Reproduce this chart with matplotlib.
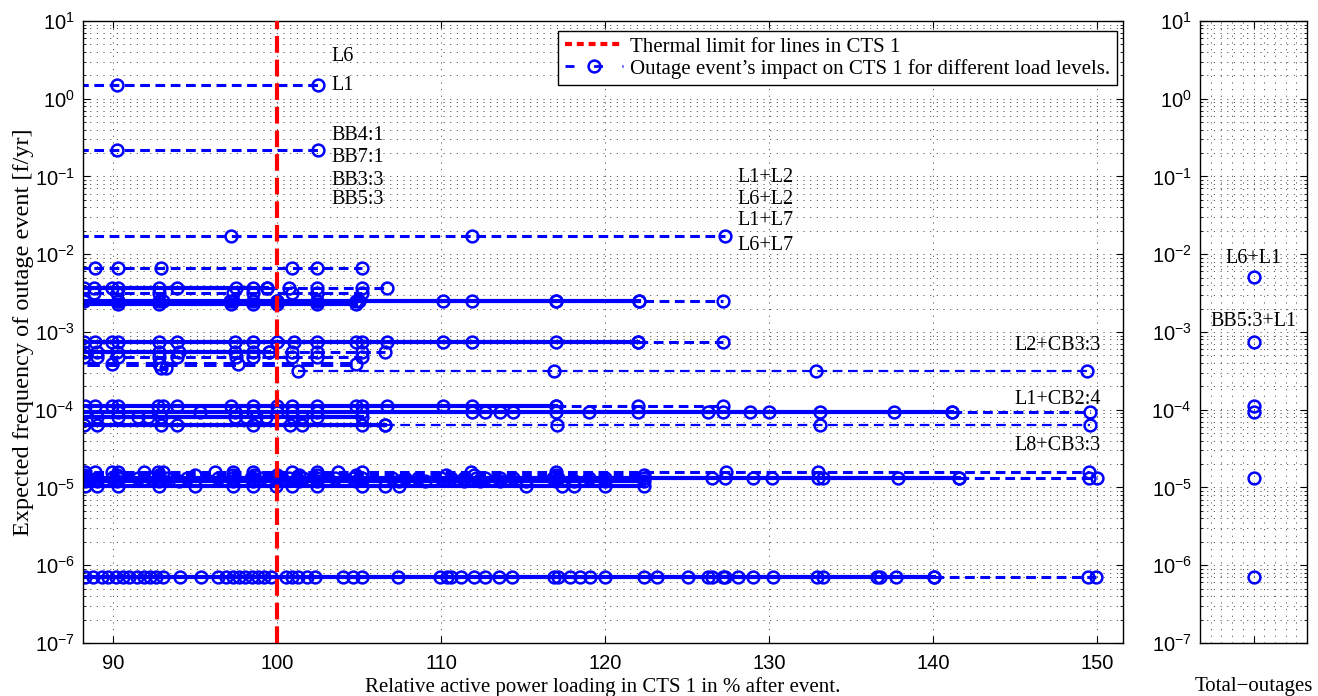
"""Outage event frequency vs. relative loading in CTS 1 (MATLAB-style log plot)."""

import matplotlib
import matplotlib.pyplot as plt
import matplotlib.ticker as mticker
import numpy as np
from matplotlib.lines import Line2D

matplotlib.use("Agg")

SERIF = "Liberation Serif"
SANS = "Liberation Sans"
BLUE = "#0000FF"
RED = "#FF0000"

# ---- event levels [f/yr] -------------------------------------------------
LV_A = 1.5
LV_B = 0.22
LV_C = 0.0172
LV_D = 0.0066
LV_E1 = 3.68e-3
LV_E2 = 3.2e-3
LV_E3 = 2.5e-3
LV_E4 = 2.27e-3
LV_F1 = 7.4e-4
LV_F2 = 5.5e-4
LV_F3 = 4.8e-4
LV_F4 = 3.87e-4
LV_F5 = 3.48e-4
LV_F6 = 3.15e-4
LV_G1 = 1.12e-4
LV_G2 = 9.44e-5
LV_G3 = 8.15e-5
LV_G4 = 6.37e-5
LV_H1 = 1.58e-5
LV_H2 = 1.45e-5
LV_H3 = 1.31e-5
LV_H4 = 1.21e-5
LV_H5 = 1.05e-5
LV_I = 7.06e-7

# ---- relative loading [%] for each load level ----------------------------
A_X = [86.0, 90.2, 102.5]
B_X = [86.0, 90.2, 102.5]
C_X = [86.0, 97.2, 111.9, 127.3]
D_X = [86.0, 88.9, 90.3, 92.9, 100.9, 102.4, 105.2]

E1_X = [86.0, 88.2, 88.8, 89.9, 90.3, 92.8, 93.9, 97.5, 98.5, 99.4]
E1D_X = [99.4, 100.7, 102.4, 105.2, 106.7]
E2_X = [86.0, 88.8, 90.2, 92.8, 97.3, 98.5, 100.9, 102.4, 105.2]
E3_X = [86.0, 88.2, 90.3, 92.8, 97.3, 98.5, 100.0, 102.4, 104.8, 110.1, 117.0, 122.1]
E3D_X = [86.0, 90.3, 93.0, 97.1, 100.0, 102.4, 105.0, 111.9, 117.0, 122.1, 127.2]
E4_X = [86.0, 90.3, 92.8, 97.2, 98.5, 100.0, 102.4, 104.8]

F1_X = [86.0, 88.2, 88.9, 89.9, 90.3, 92.8, 93.9, 97.4, 98.5, 100.0, 101.0,
        102.4, 104.8, 105.2, 106.7, 110.1, 111.9, 117.0, 122.0]
F1D_X = [122.0, 127.2]
F2_X = [86.0, 88.2, 89.0, 90.2, 92.8, 94.0, 97.4, 98.5, 99.5]
F2D_X = [99.5, 100.9, 102.4, 105.2, 106.6]
F3_X = [86.0, 88.2, 89.0, 90.3, 92.8, 93.9, 97.5, 98.5, 100.9, 102.4, 105.2]
F4_X = [86.0, 89.9, 92.8, 97.6, 104.8]
F5_X = [92.9, 93.2]
F6_X = [101.25, 116.9, 132.9, 149.4]

G1_X = [86.0, 88.25, 88.9, 89.9, 90.3, 92.7, 93.0, 93.9, 97.2, 98.5, 100.0,
        100.9, 102.4, 104.8, 105.2, 106.7, 110.1, 111.9, 117.0]
G1D_X = [117.0, 122.0, 127.2]
G2_X = [86.0, 88.25, 90.3, 95.3, 97.4, 98.5, 100.0, 100.9, 102.4, 105.2, 111.9,
        112.7, 113.6, 114.4, 117.0, 119.0, 122.0, 126.3, 127.2, 128.85, 130.0,
        133.1, 137.65, 141.2]
G2D_X = [141.2, 149.6]
G3_X = [86.0, 89.0, 90.3, 91.5, 92.1, 92.9, 97.4, 98.1, 98.7, 99.3, 100.9,
        101.5, 102.4, 105.2]
G4_X = [86.0, 88.2, 89.0, 92.9, 93.9, 98.5, 100.8, 101.5, 105.2, 106.6]
G4D_X = [106.6, 117.05, 133.1, 149.6]

H1_X = [86.0, 88.25, 88.9, 89.9, 90.3, 91.9, 92.7, 93.0, 96.2, 97.3, 98.5,
        100.9, 102.4, 103.7, 105.2, 111.8, 117.0, 127.4, 133.0, 149.5]
H2_X = [86.0, 88.3, 90.2, 92.8, 95.0, 97.3, 98.6, 100.0, 101.3, 102.4, 104.8,
        110.3, 112.0, 117.0, 122.4]
H3_X = [86.0, 88.3, 89.0, 89.9, 90.3, 91.5, 92.3, 92.8, 93.3, 94.5, 96.4, 97.3,
        98.4, 99.0, 100.0, 100.7, 101.2, 101.6, 102.4, 103.5, 104.6, 105.2,
        107.0, 107.8, 108.6, 110.0, 110.6, 111.4, 112.1, 112.7, 113.6, 114.4,
        116.8, 117.1, 119.0, 120.0, 122.4, 126.5, 127.3, 129.0, 130.2, 133.0,
        133.3, 137.9, 141.6]
H3D_X = [141.6, 149.5, 150.0]
H4_X = [86.0, 88.3, 89.0, 90.2, 92.8, 94.0, 97.3, 98.5, 100.0, 101.3, 102.4,
        104.8, 107.4, 109.0, 111.4, 112.4, 113.6, 115.2, 117.0, 118.1, 120.0,
        122.4]
H5_X = [86.0, 88.3, 89.0, 90.3, 92.8, 95.0, 97.3, 98.5, 99.9, 100.9, 102.4,
        105.2, 106.6, 107.4, 115.2, 117.4, 118.1, 120.0, 122.4]

I_X = [86.0, 88.24, 88.75, 89.28, 89.66, 90.18, 90.56, 90.95, 91.47, 91.86,
       92.25, 92.63, 93.02, 94.05, 95.34, 96.37, 96.9, 97.28, 97.67, 98.06,
       98.44, 98.83, 99.22, 99.61, 100.51, 100.9, 101.28, 101.8, 102.32, 104.0,
       104.64, 105.16, 107.36, 109.94, 110.33, 110.58, 111.23, 112.0, 112.65,
       113.55, 114.33, 116.86, 117.13, 117.85, 118.47, 119.1, 120.0, 122.36,
       123.17, 125.05, 126.26, 126.53, 127.2, 127.33, 128.14, 129.03, 130.23,
       132.92, 133.32, 136.6, 136.8, 137.75, 140.09]
ID_X = [140.09, 149.49, 149.97]

THERMAL_LIMIT = 100.0

# ---- total outages panel -------------------------------------------------
TOTAL_X = [1, 1, 1, 1, 1, 1]
TOTAL_Y = [5.09e-3, 7.4e-4, 1.12e-4, 9.35e-5, 1.31e-5, 7.06e-7]

# ---- event labels (text, x, y) -------------------------------------------
MAIN_LABELS = [
    ("L6", 103.3, 3.44, "left"),
    ("L1", 103.3, 1.50, "left"),
    ("BB4:1", 103.3, 0.332, "left"),
    ("BB7:1", 103.3, 0.173, "left"),
    ("BB3:3", 103.3, 0.090, "left"),
    ("BB5:3", 103.3, 0.0499, "left"),
    ("L1+L2", 128.1, 0.0957, "left"),
    ("L6+L2", 128.1, 0.0499, "left"),
    ("L1+L7", 128.1, 0.0268, "left"),
    ("L6+L7", 128.1, 0.0131, "left"),
    ("L2+CB3:3", 150.25, 6.6e-4, "right"),
    ("L1+CB2:4", 150.25, 1.37e-4, "right"),
    ("L8+CB3:3", 150.25, 3.42e-5, "right"),
]
TOTAL_LABELS = [
    ("L6+L1", 1.0, 8.7e-3),
    ("BB5:3+L1", 1.0, 1.38e-3),
]

SERIES = [
    (A_X, LV_A, "dash"), (B_X, LV_B, "dash"), (C_X, LV_C, "dash"),
    (D_X, LV_D, "dash"),
    (E1_X, LV_E1, "solid"), (E1D_X, LV_E1, "dash"), (E2_X, LV_E2, "dash"),
    (E3_X, LV_E3, "solid"), (E3D_X, LV_E3, "dash"), (E4_X, LV_E4, "solid"),
    (F1_X, LV_F1, "solid"), (F1D_X, LV_F1, "dash"), (F2_X, LV_F2, "solid"),
    (F2D_X, LV_F2, "dash"), (F3_X, LV_F3, "dash"), (F4_X, LV_F4, "thick"),
    (F5_X, LV_F5, "thick"), (F6_X, LV_F6, "thin"),
    (G1_X, LV_G1, "solid"), (G1D_X, LV_G1, "dash"), (G2_X, LV_G2, "solid"),
    (G2D_X, LV_G2, "dash"), (G3_X, LV_G3, "solid"), (G4_X, LV_G4, "solid"),
    (G4D_X, LV_G4, "thin"),
    (H1_X, LV_H1, "dash"), (H2_X, LV_H2, "dash"), (H3_X, LV_H3, "solid"),
    (H3D_X, LV_H3, "dash"), (H4_X, LV_H4, "solid"), (H5_X, LV_H5, "solid"),
    (I_X, LV_I, "solid"), (ID_X, LV_I, "dash"),
]

STYLES = {
    "solid": dict(linestyle="-", linewidth=3.0),
    "dash": dict(linestyle=(0, (7, 4)), linewidth=2.2),
    "thin": dict(linestyle=(0, (7, 4)), linewidth=1.6),
    "thick": dict(linestyle=(0, (9, 5)), linewidth=3.6),
}
MARKER = dict(marker="o", markersize=8.5, markeredgewidth=1.8,
              markerfacecolor="none", markeredgecolor=BLUE)
GRID = dict(color="0.2", linewidth=0.6, linestyle=(0, (0.8, 4.0)))


def setup_style() -> None:
    plt.rcParams.update(
        {
            "font.family": SANS,
            "font.size": 14.5,
            "mathtext.fontset": "custom",
            "mathtext.rm": SANS,
            "mathtext.it": SANS,
            "lines.scale_dashes": False,
            "axes.linewidth": 1.0,
            "xtick.direction": "in",
            "ytick.direction": "in",
            "xtick.top": True,
            "ytick.right": True,
            "xtick.major.size": 5,
            "ytick.major.size": 5,
            "ytick.minor.size": 2.5,
            "xtick.minor.size": 0,
        }
    )


def style_log_axis(ax) -> None:
    ax.set_yscale("log")
    ax.set_ylim(1e-7, 1e1)
    ax.yaxis.set_major_locator(mticker.LogLocator(base=10, numticks=20))
    ax.yaxis.set_minor_locator(
        mticker.LogLocator(base=10, subs=np.arange(2, 10), numticks=100)
    )
    ax.grid(True, which="major", axis="both", **GRID)
    ax.grid(True, which="minor", axis="y", **GRID)
    ax.tick_params(axis="y", which="major", pad=6, labelsize=14.5)
    ax.tick_params(axis="x", which="major", pad=8, labelsize=14.5)
    ax.set_axisbelow(True)


def main() -> None:
    setup_style()
    fig = plt.figure(figsize=(13.18, 6.96), dpi=100)
    ax = fig.add_axes([0.063, 0.0762, 0.789, 0.8937])
    ax2 = fig.add_axes([0.9105, 0.0762, 0.0812, 0.8937])

    style_log_axis(ax)
    for xs, level, key in SERIES:
        ax.plot(xs, [level] * len(xs), color=BLUE, **STYLES[key], **MARKER)
    ax.axvline(THERMAL_LIMIT, color=RED, linewidth=3.0,
               linestyle=(0, (12, 5)), zorder=5)

    ax.set_xlim(88.15, 151.6)
    ax.xaxis.set_major_locator(mticker.MultipleLocator(10))
    ax.xaxis.set_minor_locator(mticker.NullLocator())
    ax.set_xlabel("Relative active power loading in CTS 1 in % after event.",
                  family=SERIF, fontsize=15)
    ax.xaxis.set_label_coords(0.5, -0.055)
    ax.set_ylabel("Expected frequency of outage event [f/yr]",
                  family=SERIF, fontsize=17.5, labelpad=0)

    for text, x, y, ha in MAIN_LABELS:
        ax.text(x, y, text, ha=ha, va="center", family=SERIF, fontsize=14.5)

    handles = [
        Line2D([], [], color=RED, linewidth=3.0, linestyle=(0, (5, 3.5))),
        Line2D([], [], color=BLUE, linewidth=2.0, linestyle=(0, (6.5, 14)),
               **MARKER),
    ]
    labels = [
        "Thermal limit for lines in CTS 1",
        "Outage event\u2019s impact on CTS 1 for different load levels.",
    ]
    leg = ax.legend(
        handles, labels, loc="upper right", bbox_to_anchor=(0.994, 0.984),
        borderaxespad=0, prop={"family": SERIF, "size": 15},
        fancybox=False, framealpha=1, edgecolor="black", handlelength=2.8,
        handletextpad=0.35, labelspacing=0.1, borderpad=0.3,
    )
    leg.get_frame().set_linewidth(1.0)
    leg.set_zorder(10)

    style_log_axis(ax2)
    ax2.plot(TOTAL_X, TOTAL_Y, linestyle="none", **MARKER)
    ax2.set_xlim(0.5, 1.5)
    ax2.xaxis.set_major_locator(mticker.FixedLocator([1]))
    ax2.xaxis.set_minor_locator(mticker.MultipleLocator(0.1))
    ax2.grid(True, which="minor", axis="x", **GRID)
    ax2.set_xticklabels([""])
    ax2.set_xlabel("Total\u2212outages", family=SERIF, fontsize=15)
    ax2.xaxis.set_label_coords(0.5, -0.055)
    for text, x, y in TOTAL_LABELS:
        ax2.text(x, y, text, ha="center", va="center", family=SERIF,
                 fontsize=14.5)

    fig.savefig("out.png", dpi=100)
    plt.close(fig)


if __name__ == "__main__":
    main()
